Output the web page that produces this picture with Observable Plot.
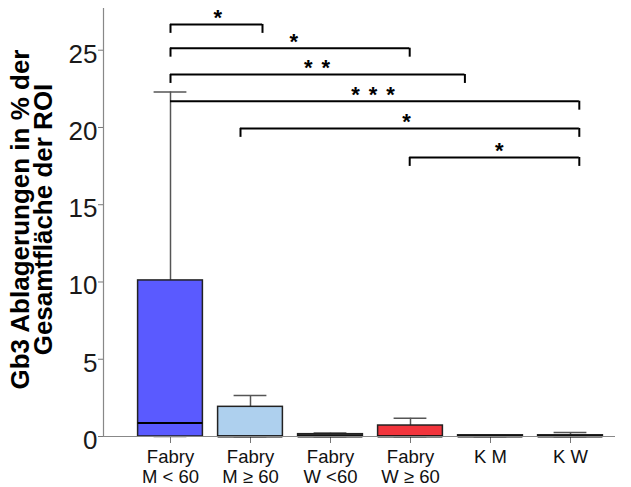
<!DOCTYPE html>
<html>
<head>
<meta charset="utf-8">
<script src="https://cdn.jsdelivr.net/npm/d3@7"></script>
<script src="https://cdn.jsdelivr.net/npm/@observablehq/plot@0.6"></script>
<style>
  html, body { margin: 0; padding: 0; background: #fff; }
</style>
</head>
<body>
<div id="chart"></div>
<script>
// Categories (x positions are their indices 0..5)
const categories = ["Fabry\nM < 60", "Fabry\nM ≥ 60", "Fabry\nW <60", "Fabry\nW ≥ 60", "K M", "K W"];
const q1 = [0, 0, 0, 0, 0, 0];
const medians = [0.87, 0, 0, 0, 0, 0];
const q3 = [10.1, 1.92, 0.15, 0.71, 0.08, 0.08];
const whiskerLow = [0, 0, 0, 0, 0, 0];
const whiskerHigh = [22.3, 2.65, 0.22, 1.18, 0.08, 0.26];
const fills = ["#5a5aff", "#aed0ee", "#333333", "#f2343c", "#333333", "#333333"];

// Significance brackets
const bracketFrom = [0, 0, 0, 0, 0.875, 2.99];
const bracketTo = [1.15, 2.99, 3.68, 5.11, 5.11, 5.11];
const bracketY = [26.67, 25.13, 23.43, 21.70, 19.94, 18.06];
const bracketLabel = ["*", "*", "* *", "* * *", "*", "*"];
const bracketLabelX = [0.6, 1.55, 1.84, 2.54, 2.96, 4.12];
const bracketLeftTick = [true, true, true, false, true, true];

const yTicks = [0, 5, 10, 15, 20, 25];
const yLabel = "Gb3 Ablagerungen in % der\nGesamtfläche der ROI";

const idx = categories.map((_, i) => i);
const bidx = bracketLabel.map((_, i) => i);
const xDomain = [-0.8375, 5.5625];
const yDomain = [0, 27.7];
const halfBox = 0.405, halfCap = 0.205, drop = 0.58;

const chart = Plot.plot({
  width: 631,
  height: 487,
  marginLeft: 103,
  marginRight: 16,
  marginTop: 8,
  marginBottom: 51,
  style: {fontFamily: "'Liberation Sans', Arial, sans-serif", background: "#fff", color: "#111"},
  x: {type: "linear", domain: xDomain},
  y: {domain: yDomain},
  marks: [
    Plot.axisY({ticks: yTicks, tickSize: 5, tickFormat: () => "", label: null, stroke: "#777"}),
    Plot.axisY({ticks: yTicks, tickSize: 0, tickPadding: 6, fontSize: 26, dy: 4, label: null, fill: "#1a1a1a"}),
    Plot.axisX({ticks: idx, tickFormat: i => categories[i], tickSize: 7, tickPadding: 6, fontSize: 18.5, lineHeight: 1.05, label: null, stroke: "#777", fill: "#111"}),
    Plot.ruleX([xDomain[0]], {y1: yDomain[0], y2: yDomain[1], stroke: "#888", strokeWidth: 1.2}),
    // whiskers
    Plot.ruleX(idx, {x: i => i, y1: i => q3[i], y2: i => whiskerHigh[i], stroke: "#555", strokeWidth: 1.5}),
    Plot.ruleY(idx, {y: i => whiskerHigh[i], x1: i => i - halfCap, x2: i => i + halfCap, stroke: "#555", strokeWidth: 1.5}),
    Plot.ruleY(idx, {y: i => whiskerLow[i], x1: i => i - halfCap, x2: i => i + halfCap, stroke: "#555", strokeWidth: 1.5}),
    // boxes
    Plot.rect(idx, {x1: i => i - halfBox, x2: i => i + halfBox, y1: i => q1[i], y2: i => q3[i], fill: i => fills[i], stroke: "#222", strokeWidth: 1.5}),
    Plot.ruleY(idx, {y: i => medians[i], x1: i => i - halfBox, x2: i => i + halfBox, stroke: "#000", strokeWidth: 2}),
    Plot.ruleY([0], {stroke: "#888", strokeWidth: 1.2}),
    // brackets
    Plot.ruleY(bidx, {y: i => bracketY[i], x1: i => bracketFrom[i], x2: i => bracketTo[i], stroke: "#000", strokeWidth: 2}),
    Plot.ruleX(bidx.filter(i => bracketLeftTick[i]), {x: i => bracketFrom[i], y1: i => bracketY[i] - drop, y2: i => bracketY[i], stroke: "#000", strokeWidth: 2}),
    Plot.ruleX(bidx, {x: i => bracketTo[i], y1: i => bracketY[i] - drop, y2: i => bracketY[i], stroke: "#000", strokeWidth: 2}),
    Plot.text(bidx, {x: i => bracketLabelX[i], y: i => bracketY[i], text: i => bracketLabel[i], lineAnchor: "bottom", dy: 1, fontSize: 22, fontWeight: "bold", fill: "#000"}),
    // y label
    Plot.text([yLabel], {frameAnchor: "left", textAnchor: "middle", dx: -70, dy: -3, rotate: -90, fontSize: 26, fontWeight: "bold", lineHeight: 0.885, fill: "#000"})
  ]
});
// widen spacing of the significance stars
d3.select(chart).selectAll("text").filter(function () { return /^\*/.test(this.textContent); })
  .style("letter-spacing", "1.4px");
document.getElementById("chart").appendChild(chart);
</script>
</body>
</html>
